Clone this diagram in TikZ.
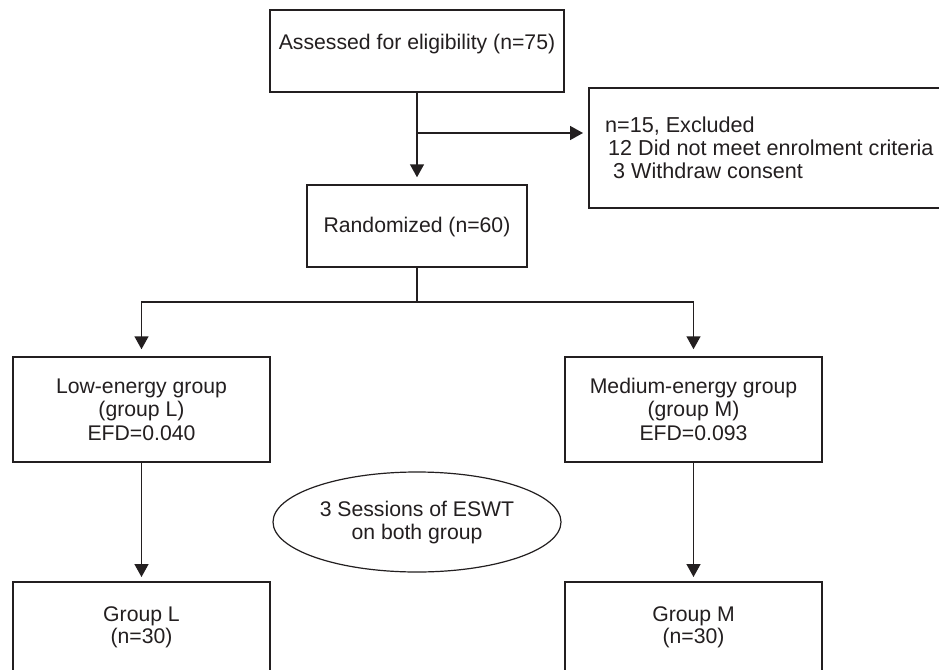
\documentclass[tikz,border=0pt]{standalone}
\usepackage{fontspec}
\setmainfont{Liberation Sans}
\usetikzlibrary{arrows.meta,shapes.geometric}
\definecolor{ink}{HTML}{231F20}
\tikzset{
  boxnode/.style={draw=ink, line width=1.5pt, rectangle, inner sep=0pt},
  txt/.style={inner sep=0pt, anchor=base, text=ink, font=\fontsize{21.2pt}{23pt}\selectfont},
  txtl/.style={txt, anchor=base west, font=\fontsize{21.6pt}{23pt}\selectfont},
  conn/.style={draw=ink, line width=1.5pt},
  arr/.style={conn, -{Triangle[length=13pt,width=14pt]}},
}
\begin{document}
\begin{tikzpicture}[x=1pt,y=-1pt]
\useasboundingbox (0,0) rectangle (939,669);
\clip (0,0) rectangle (939,669);
\fill[white] (0,0) rectangle (939,669);
% boxes
\node[boxnode, minimum width=294pt, minimum height=82pt] (assess) at (417,51) {};
\node[boxnode, minimum width=420pt, minimum height=120pt, anchor=north west] (excl) at (588,87) {};
\node[boxnode, minimum width=220pt, minimum height=82pt] (rand) at (417,226) {};
\node[boxnode, minimum width=257pt, minimum height=105pt] (low) at (141.5,409.5) {};
\node[boxnode, minimum width=257pt, minimum height=105pt] (med) at (693.5,409.5) {};
\node[boxnode, minimum width=257pt, minimum height=140pt, anchor=north] (gl) at (141.5,581) {};
\node[boxnode, minimum width=257pt, minimum height=140pt, anchor=north] (gm) at (693.5,581) {};
\node[draw=ink, line width=1.2pt, ellipse, minimum width=288pt, minimum height=100pt, inner sep=0pt] (ell) at (417,522) {};
% texts
\node[txt] (assesst) at (417,50) {Assessed for eligibility (n=75)};
\node[txtl] (exclt1) at (605,132) {n=15, Excluded};
\node[txtl] (exclt2) at (608,155) {12 Did not meet enrolment criteria};
\node[txtl] (exclt3) at (613,178) {3 Withdraw consent};
\node[txt] (randt) at (417,232) {Randomized (n=60)};
\node[txt] (lowt1) at (141.5,393) {Low-energy group};
\node[txt] (lowt2) at (141.5,416.5) {(group L)};
\node[txt] (lowt3) at (141.5,440) {EFD=0.040};
\node[txt] (medt1) at (693.5,393) {Medium-energy group};
\node[txt] (medt2) at (693.5,416.5) {(group M)};
\node[txt] (medt3) at (693.5,440) {EFD=0.093};
\node[txt] (ellt1) at (417,516) {3 Sessions of ESWT};
\node[txt] (ellt2) at (417,539) {on both group};
\node[txt] (glt1) at (141.5,621) {Group L};
\node[txt] (glt2) at (141.5,643) {(n=30)};
\node[txt] (gmt1) at (693.5,621) {Group M};
\node[txt] (gmt2) at (693.5,643) {(n=30)};
% connectors
\coordinate (split1) at (417,133);
\coordinate (split2) at (417,302);
\draw[arr, shorten >=7pt] (assess.south) -- (rand.north);
\draw[arr, shorten >=5pt] (split1) -- (split1 -| excl.west);
\draw[conn] (rand.south) -- (split2);
\draw[arr, shorten >=7pt] (split2) -| (low.north);
\draw[arr, shorten >=7pt] (split2) -| (med.north);
\draw[arr, shorten >=4pt] (low.south) -- (gl.north);
\draw[arr, shorten >=4pt] (med.south) -- (gm.north);
\end{tikzpicture}
\end{document}
